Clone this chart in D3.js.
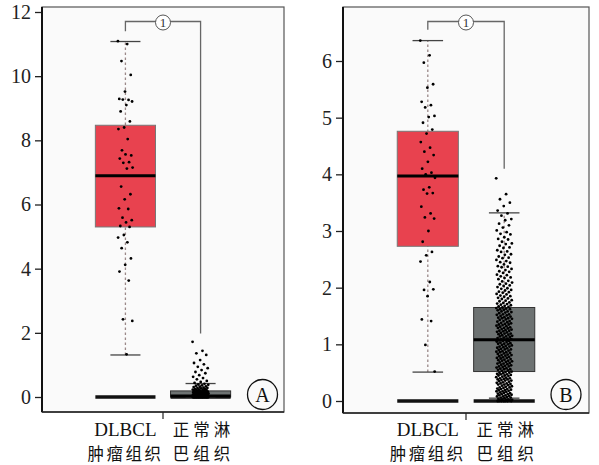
<!DOCTYPE html>
<html>
<head>
<meta charset="utf-8">
<script src="https://cdnjs.cloudflare.com/ajax/libs/d3/7.8.5/d3.min.js"></script>
<style>
  body { margin: 0; background: #fff; }
  .tick text { font-family: "Liberation Serif", "Times New Roman", serif; font-size: 20px; fill: #222; }
  .cat-en { font-family: "Liberation Serif", "Times New Roman", serif; font-size: 19px; fill: #111; }
  .cat-cn { font-family: "Noto Sans CJK SC", sans-serif; font-size: 16.5px; fill: #111; }
</style>
</head>
<body>
<script>
// categories and labels
var categories = ["tumor", "normal"]
var labelLine1 = ["DLBCL", "正常淋"]
var labelLine2 = ["肿瘤组织", "巴组织"]
var panelLetters = ["A", "B"]
var bracketMark = "1"

// tick values
var ticksA = [0, 2, 4, 6, 8, 10, 12]
var ticksB = [0, 1, 2, 3, 4, 5, 6]

// box stats: [lower whisker, q1, median, q3, upper whisker]
var statsTumorA = [1.31, 5.3, 6.9, 8.47, 11.08]
var statsNormalA = [0, 0, 0.03, 0.19, 0.42]
var statsTumorB = [0.51, 2.73, 3.97, 4.76, 6.36]
var statsNormalB = [0.05, 0.52, 1.08, 1.65, 3.32]

// top end of the significance bracket legs
var bracketEndA = [11.4, 1.98]
var bracketEndB = [6.55, 4.1]

// points
var pointsTumorA = [11.09, 11.0, 10.47, 10.04, 9.52, 9.29, 9.26, 9.27, 9.21, 9.1, 8.9, 8.59, 8.4, 8.35,
  8.04, 7.69, 7.53, 7.56, 7.43, 7.32, 7.3, 7.15, 7.12, 6.56, 6.32, 6.16, 5.88, 5.86, 5.59, 5.51,
  5.44, 5.33, 5.3, 5.05, 4.97, 4.82, 4.64, 4.32, 4.12, 3.91, 3.63, 2.42, 2.37, 1.33]

var pointsNormalA = [1.72, 1.44, 1.36, 1.31, 1.15, 1.06, 1.02, 0.94, 0.9, 0.84, 0.78, 0.74, 0.68, 0.63,
  0.59, 0.55, 0.5, 0.47, 0.44, 0.41, 0.39, 0.38, 0.36, 0.35, 0.33, 0.32, 0.31, 0.29, 0.28, 0.28,
  0.27, 0.25, 0.25, 0.24, 0.23, 0.22, 0.21, 0.21, 0.2, 0.19, 0.19, 0.18, 0.17, 0.17, 0.16, 0.16,
  0.15, 0.15, 0.14, 0.14, 0.13, 0.13, 0.13, 0.12, 0.12, 0.11, 0.11, 0.11, 0.1, 0.1, 0.09, 0.09,
  0.09, 0.08, 0.08, 0.08, 0.07, 0.07, 0.07, 0.07, 0.06, 0.06, 0.06, 0.06, 0.05, 0.05, 0.05, 0.05,
  0.04, 0.04, 0.04, 0.04, 0.04, 0.03, 0.03, 0.03, 0.03, 0.03, 0.02, 0.02, 0.02, 0.02, 0.02, 0.02,
  0.01, 0.01, 0.01, 0.01, 0.01, 0.01, 0.01, 0, 0, 0, 0, 0, 0, 0, 0, 0, 0, 0, 0, 0, 0, 0, 0,
  0, 0, 0, 0, 0, 0, 0, 0, 0, 0, 0, 0, 0, 0, 0, 0, 0, 0]

var pointsTumorB = [6.36, 6.1, 5.97, 5.59, 5.53, 5.28, 5.22, 5.18, 5.03, 5.01, 4.91, 4.79, 4.72,
  4.57, 4.47, 4.4, 4.34, 4.22, 4.1, 4.03, 4.0, 3.94, 3.77, 3.73, 3.67, 3.66, 3.43, 3.31, 3.24,
  3.22, 3.0, 2.81, 2.63, 2.57, 2.46, 2.1, 1.96, 1.97, 1.85, 1.44, 1.41, 0.99, 0.52]

var pointsNormalB = [3.93, 3.65, 3.56, 3.5, 3.44, 3.36, 3.31, 3.27, 3.21, 3.19, 3.13, 3.1, 3.06, 3.01,
  2.98, 2.95, 2.94, 2.89, 2.86, 2.85, 2.81, 2.78, 2.77, 2.74, 2.71, 2.7, 2.66, 2.64, 2.63, 2.59,
  2.58, 2.55, 2.53, 2.52, 2.49, 2.47, 2.45, 2.44, 2.41, 2.38, 2.37, 2.36, 2.33, 2.31, 2.29, 2.28,
  2.26, 2.23, 2.22, 2.2, 2.18, 2.17, 2.15, 2.12, 2.11, 2.09, 2.07, 2.06, 2.04, 2.03, 2.01,
  1.99, 1.98, 1.96, 1.95, 1.93, 1.92, 1.91, 1.89, 1.88, 1.86, 1.85, 1.84, 1.82, 1.81, 1.8, 1.78,
  1.77, 1.76, 1.74, 1.73, 1.72, 1.71, 1.7, 1.69, 1.68, 1.67, 1.66,
  1.65, 1.64, 1.63, 1.62, 1.62, 1.61, 1.6, 1.58, 1.58, 1.57, 1.56, 1.55, 1.53, 1.53, 1.52, 1.51,
  1.5, 1.49, 1.48, 1.47, 1.46, 1.46, 1.45, 1.44, 1.43, 1.41, 1.41, 1.4, 1.39, 1.38, 1.37, 1.36,
  1.35, 1.35, 1.34, 1.33, 1.32, 1.31, 1.3, 1.29, 1.29, 1.28, 1.27, 1.26, 1.25, 1.24, 1.24, 1.23,
  1.22, 1.21, 1.2, 1.19, 1.19, 1.18, 1.17, 1.16, 1.15, 1.14, 1.14, 1.13, 1.12, 1.11, 1.1, 1.09, 1.09,
  1.08, 1.07, 1.06, 1.06, 1.05, 1.04, 1.03, 1.02, 1.01, 1.01, 1.0, 0.99, 0.98, 0.97, 0.96, 0.96,
  0.95, 0.94, 0.93, 0.92, 0.91, 0.91, 0.9, 0.89, 0.88, 0.87, 0.86, 0.86, 0.85, 0.84, 0.83, 0.82,
  0.81, 0.81, 0.8, 0.79, 0.78, 0.77, 0.76, 0.76, 0.75, 0.74, 0.73, 0.72, 0.71, 0.71, 0.7, 0.69,
  0.68, 0.67, 0.66, 0.66, 0.65, 0.64, 0.63, 0.62, 0.61, 0.61, 0.6, 0.59, 0.58, 0.57, 0.56, 0.56,
  0.55, 0.54, 0.53, 0.52,
  0.51, 0.5, 0.5, 0.49, 0.48, 0.47, 0.47, 0.46, 0.45, 0.45, 0.44, 0.43, 0.42, 0.41, 0.4, 0.4,
  0.39, 0.38, 0.38, 0.37, 0.36, 0.36, 0.35, 0.34, 0.33, 0.32, 0.31, 0.31, 0.3, 0.29, 0.29, 0.28,
  0.27, 0.26, 0.25, 0.24, 0.24, 0.23, 0.22, 0.21, 0.21, 0.2, 0.19, 0.19, 0.18, 0.17, 0.17, 0.16,
  0.15, 0.14, 0.14, 0.13, 0.12, 0.12, 0.11, 0.1, 0.1, 0.09, 0.08, 0.08, 0.07, 0.06, 0.06, 0.05,
  0.04, 0.03, 0.03, 0.02, 0.02, 0.01, 0.01, 0, 0, 0, 0, 0, 0, 0]

var boxColors = ["#e8424f", "#6d7272"]

var svg = d3.select("body").append("svg")
    .attr("width", 599)
    .attr("height", 465)

function drawPanel(p) {
    var g = svg.append("g")

    var x = d3.scalePoint()
        .domain(categories)
        .range([p.left, p.right])
        .padding(1.11)
    var y = d3.scaleLinear()
        .domain([0, p.ticks[p.ticks.length - 1]])
        .range([p.zeroY, p.topTickY])

    var boxW = x.step() * 0.8
    var capW = boxW / 2

    // plot frame
    g.append("rect")
        .attr("x", p.left).attr("y", p.top)
        .attr("width", p.right - p.left).attr("height", p.bottom - p.top)
        .attr("fill", "#fafafa")
        .attr("stroke", "#555")
        .attr("stroke-width", 1.2)

    categories.forEach(function(c, i) {
        var s = p.stats[i]
        var cx = x(c)

        // zero bar
        g.append("line")
            .attr("x1", cx - boxW / 2).attr("x2", cx + boxW / 2)
            .attr("y1", y(0)).attr("y2", y(0))
            .attr("stroke", "#111").attr("stroke-width", 3.5)

        // dashed whisker
        g.append("line")
            .attr("x1", cx).attr("x2", cx)
            .attr("y1", y(s[0])).attr("y2", y(s[4]))
            .attr("stroke", "#9a8888").attr("stroke-width", 1.3)
            .attr("stroke-dasharray", "2.5,2.5")

        // caps
        ;[s[0], s[4]].forEach(function(v) {
            g.append("line")
                .attr("x1", cx - capW / 2).attr("x2", cx + capW / 2)
                .attr("y1", y(v)).attr("y2", y(v))
                .attr("stroke", "#444").attr("stroke-width", 1.3)
        })

        // box
        g.append("rect")
            .attr("x", cx - boxW / 2)
            .attr("y", y(s[3]))
            .attr("width", boxW)
            .attr("height", Math.max(y(s[1]) - y(s[3]), 0))
            .attr("fill", boxColors[i])
            .attr("stroke", i == 0 ? "#777" : "#333")
            .attr("stroke-width", 1)

        // median
        g.append("line")
            .attr("x1", cx - boxW / 2).attr("x2", cx + boxW / 2)
            .attr("y1", y(s[2])).attr("y2", y(s[2]))
            .attr("stroke", "#000").attr("stroke-width", 3)

        // jittered points
        g.append("g").selectAll("circle")
            .data(p.points[i])
            .join("circle")
            .attr("cx", function(d, j) { return cx + (((j * 0.6180339887) % 1) - 0.5) * p.jitter[i] })
            .attr("cy", function(d) { return y(d) })
            .attr("r", 1.4)
            .attr("fill", "#000")
    })

    // significance bracket
    var bx1 = x(categories[0]), bx2 = x(categories[1])
    var by = p.top + 14.5
    g.append("path")
        .attr("d", "M" + bx1 + "," + y(p.bracket[0]) + "V" + by + "H" + bx2 + "V" + y(p.bracket[1]))
        .attr("fill", "none")
        .attr("stroke", "#666")
        .attr("stroke-width", 1.3)
    g.append("circle")
        .attr("cx", (bx1 + bx2) / 2).attr("cy", by + 1)
        .attr("r", 7.5)
        .attr("fill", "#fff").attr("stroke", "#555").attr("stroke-width", 1)
    g.append("text")
        .text(bracketMark)
        .attr("x", (bx1 + bx2) / 2).attr("y", by + 5.5)
        .attr("text-anchor", "middle")
        .attr("font-family", "Liberation Serif, serif")
        .attr("font-size", 13)
        .attr("fill", "#333")

    // y axis
    var yAxis = d3.axisLeft(y).tickValues(p.ticks).tickFormat(d3.format("d")).tickSize(7).tickPadding(4)
    var yg = g.append("g")
        .attr("transform", "translate(" + p.left + ",0)")
        .call(yAxis)
    yg.select(".domain").remove()
    yg.selectAll(".tick line").attr("stroke", "#222").attr("stroke-width", 1.3)
    g.append("line")
        .attr("x1", p.left).attr("x2", p.left)
        .attr("y1", p.top).attr("y2", p.bottom)
        .attr("stroke", "#111").attr("stroke-width", 2)

    // x axis line and center tick
    g.append("line")
        .attr("x1", p.left).attr("x2", p.right)
        .attr("y1", p.bottom).attr("y2", p.bottom)
        .attr("stroke", "#222").attr("stroke-width", 1.5)
    g.append("line")
        .attr("x1", (bx1 + bx2) / 2).attr("x2", (bx1 + bx2) / 2)
        .attr("y1", p.bottom).attr("y2", p.bottom + 7)
        .attr("stroke", "#222").attr("stroke-width", 1.2)

    // category labels
    categories.forEach(function(c, i) {
        var lx = x(c) + (i == 1 ? 3 : 0)
        g.append("text")
            .text(labelLine1[i])
            .attr("class", i == 0 ? "cat-en" : "cat-cn")
            .attr("x", lx).attr("y", 436)
            .attr("text-anchor", "middle")
            .attr("letter-spacing", i == 0 ? 0 : 4)
        g.append("text")
            .text(labelLine2[i])
            .attr("class", "cat-cn")
            .attr("x", lx).attr("y", 460)
            .attr("text-anchor", "middle")
            .attr("letter-spacing", i == 0 ? 2.5 : 4)
    })

    // panel letter
    g.append("circle")
        .attr("cx", p.letterX).attr("cy", 394.5)
        .attr("r", 15)
        .attr("fill", "none").attr("stroke", "#111").attr("stroke-width", 1.3)
    g.append("text")
        .text(p.letter)
        .attr("x", p.letterX).attr("y", 401.5)
        .attr("text-anchor", "middle")
        .attr("font-family", "Liberation Serif, serif")
        .attr("font-size", 20)
        .attr("fill", "#111")
}

drawPanel({
    left: 42, right: 284, top: 7, bottom: 412,
    zeroY: 397, topTickY: 12,
    ticks: ticksA,
    stats: [statsTumorA, statsNormalA],
    points: [pointsTumorA, pointsNormalA],
    jitter: [15, 16],
    bracket: bracketEndA,
    letter: panelLetters[0], letterX: 262.5
})

drawPanel({
    left: 343, right: 589, top: 7, bottom: 413,
    zeroY: 401, topTickY: 61,
    ticks: ticksB,
    stats: [statsTumorB, statsNormalB],
    points: [pointsTumorB, pointsNormalB],
    jitter: [15, 16],
    bracket: bracketEndB,
    letter: panelLetters[1], letterX: 566
})
</script>
</body>
</html>
